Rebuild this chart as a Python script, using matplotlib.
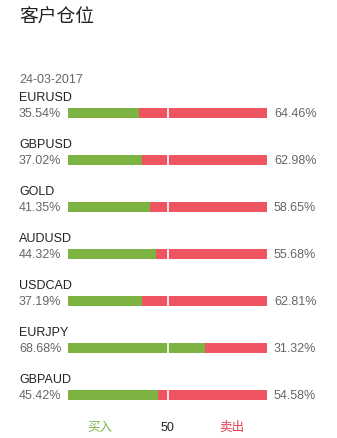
import matplotlib.pyplot as plt
from matplotlib.transforms import blended_transform_factory

plt.rcParams['font.family'] = ['Liberation Sans', 'Noto Sans CJK SC']

pairs = ["EURUSD", "GBPUSD", "GOLD", "AUDUSD", "USDCAD", "EURJPY", "GBPAUD"]
buy = [35.54, 37.02, 41.35, 44.32, 37.19, 68.68, 45.42]
sell = [64.46, 62.98, 58.65, 55.68, 62.81, 31.32, 54.58]
date = "24-03-2017"

green = "#7cb342"
red = "#ef5461"
grey = "#666666"

W, H = 337, 439
fig = plt.figure(figsize=(W / 100, H / 100), dpi=100)
fig.patch.set_facecolor("white")

# axes covers just the bar area, one row per pair
ax = fig.add_axes([68 / W, 1 - 419.5 / H, 199 / W, 329 / H])
ax.set_xlim(0, 100)
ax.set_ylim(len(pairs) - 0.5, -0.5)
ax.axis("off")

rows = list(range(len(pairs)))
bh = 10 / 47
ax.barh(rows, buy, height=bh, color=green)
ax.barh(rows, sell, left=buy, height=bh, color=red)
ax.vlines([50] * len(rows), [r - bh / 2 for r in rows], [r + bh / 2 for r in rows],
          color="white", lw=1.2)

tr = blended_transform_factory(fig.transFigure, ax.transData)
for r, p, b, s in zip(rows, pairs, buy, sell):
    ax.text(19 / W, r - 0.34, p, transform=tr, fontsize=9, color="#222222",
            va="center", ha="left")
    ax.text(19 / W, r, "%.2f%%" % b, transform=tr, fontsize=9, color=grey,
            va="center", ha="left")
    ax.text(274 / W, r, "%.2f%%" % s, transform=tr, fontsize=9, color=grey,
            va="center", ha="left")

fig.text(19 / W, 1 - 17 / H, "客户仓位", fontsize=13.5, color="#222222",
         va="center", ha="left")
fig.text(19 / W, 1 - 80 / H, date, fontsize=9, color=grey, va="center", ha="left")

# footer legend
yf = 314 / 47
ax.text(16, yf, "买入", fontsize=9, color=green, ha="center", va="center")
ax.text(50, yf, "50", fontsize=9, color="#222222", ha="center", va="center")
ax.text(82.4, yf, "卖出", fontsize=9, color="#e0404f", ha="center", va="center")

plt.savefig("out.png", dpi=100, facecolor="white")
